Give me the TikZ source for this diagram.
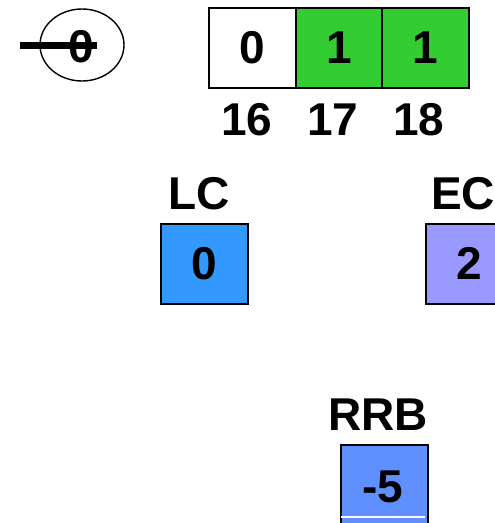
\documentclass[tikz,border=0pt]{standalone}
\usepackage{fontspec}
\usetikzlibrary{shapes.geometric}
\setmainfont{Liberation Sans}
\begin{document}
\begin{tikzpicture}[x=1pt,y=-1pt,
  cell/.style={draw=black,line width=1.6pt,minimum width=87pt,minimum height=80pt,inner sep=0pt,anchor=north west,font=\fontsize{46}{46}\bfseries},
  lbl/.style={font=\fontsize{46}{46}\bfseries,inner sep=0pt}]
\useasboundingbox (0,0) rectangle (495,523);
\clip (0,0) rectangle (495,523);
% pointer circle
\node[draw=black,line width=1.4pt,ellipse,minimum width=84pt,minimum height=72pt,inner sep=0pt] (circ) at (82,45) {};
\node[lbl] (zero) at (81,47) {0};
\coordinate (pstart) at (20,45);
\coordinate (pend) at (97,45);
\draw[line width=7pt] (pstart) -- (pend);
% array
\node[cell,fill=white] (c16) at (208,7) {0};
\node[cell,fill={rgb,255:red,51;green,204;blue,51}] (c17) at (295,7) {1};
\node[cell,fill={rgb,255:red,51;green,204;blue,51}] (c18) at (381,7) {1};
\node[lbl] (l16) at (247,120) {16};
\node[lbl] (l17) at (333,120) {17};
\node[lbl] (l18) at (419,120) {18};
% LC
\node[lbl] (lcl) at (199,194) {LC};
\node[cell,fill={rgb,255:red,51;green,153;blue,255}] (lc) at (160,223) {0};
% EC
\node[lbl] (ecl) at (463,194) {EC};
\node[cell,fill={rgb,255:red,153;green,153;blue,255}] (ec) at (425,223) {2};
% RRB
\node[lbl] (rrbl) at (378,415) {RRB};
\node[cell,fill={rgb,255:red,96;green,144;blue,255},minimum height=100pt] (rrb) at (340,444) {};
\node[font=\fontsize{46}{46}\bfseries,inner sep=0pt] (rrbv) at (383,487) {-5};
\coordinate (wl) at (341,517);
\coordinate (wr) at (425,517);
\draw[white,line width=1.2pt] (wl) -- (wr);
\end{tikzpicture}
\end{document}
